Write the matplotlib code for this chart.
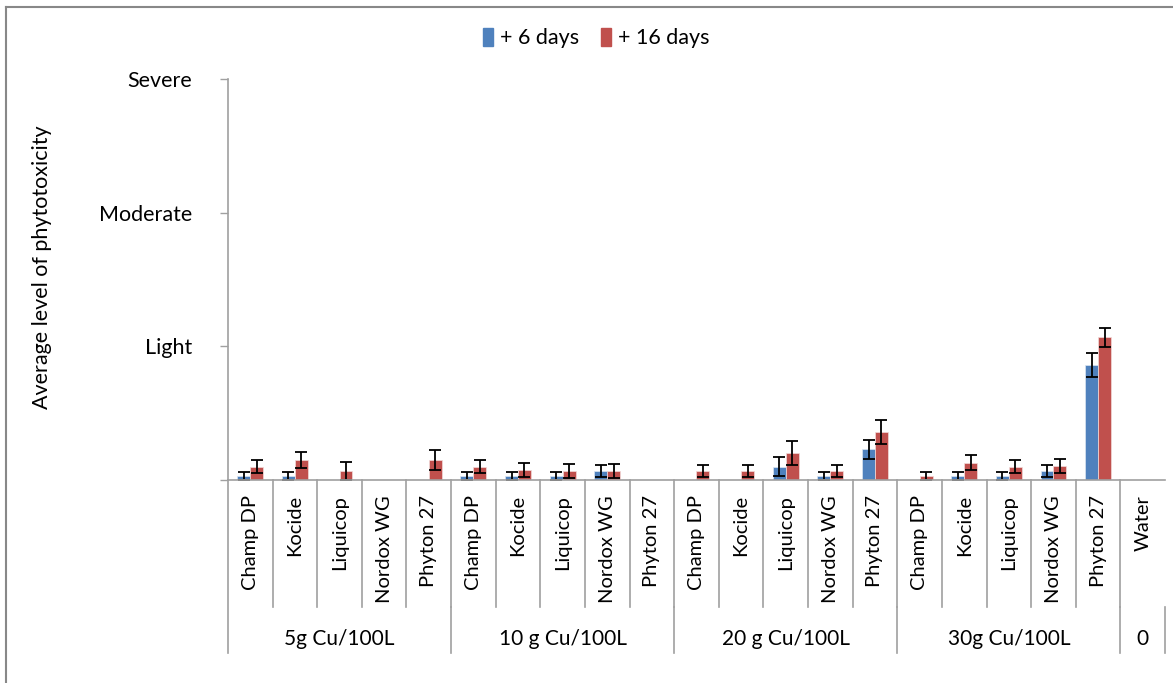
import numpy as np
import matplotlib.pyplot as plt
from matplotlib.lines import Line2D
from matplotlib.patches import Patch

plt.rcParams['font.family'] = ['Lato', 'DejaVu Sans']

products = ["Champ DP", "Kocide", "Liquicop", "Nordox WG", "Phyton 27"]
doses = ["5g Cu/100L", "10 g Cu/100L", "20 g Cu/100L", "30g Cu/100L"]
categories = products * 4 + ["Water"]
groups = doses + ["0"]
group_sizes = [5, 5, 5, 5, 1]

day6 = [0.033, 0.033, 0, 0, 0,
        0.033, 0.033, 0.033, 0.067, 0,
        0, 0, 0.1, 0.033, 0.23,
        0, 0.033, 0.033, 0.067, 0.86,
        0]
day6_err = [0.03, 0.03, 0, 0, 0,
            0.03, 0.03, 0.03, 0.045, 0,
            0, 0, 0.07, 0.03, 0.07,
            0, 0.03, 0.03, 0.045, 0.09,
            0]
day16 = [0.1, 0.15, 0.067, 0, 0.15,
         0.1, 0.075, 0.067, 0.067, 0,
         0.067, 0.067, 0.2, 0.067, 0.36,
         0.033, 0.13, 0.1, 0.105, 1.067,
         0]
day16_err = [0.05, 0.057, 0.067, 0, 0.077,
             0.05, 0.05, 0.05, 0.05, 0,
             0.045, 0.045, 0.09, 0.045, 0.09,
             0.03, 0.055, 0.05, 0.055, 0.07,
             0]

blue = '#4F81BD'
red = '#C0504D'
grey = '#A0A0A0'

fig = plt.figure(figsize=(11.73, 6.83), dpi=100)
ax = fig.add_axes([228/1173, 1-480/683, (1165-228)/1173, (480-79)/683])

x = np.arange(len(categories))
w = 0.29
d6 = np.array(day6)
d16 = np.array(day16)
ax.bar(x - w/2, d6, w, color=blue, edgecolor='#DCE6F2', linewidth=0.5, label='+ 6 days')
ax.bar(x + w/2, d16, w, color=red, edgecolor='#F2DCDB', linewidth=0.5, label='+ 16 days')

m6 = d6 > 0
m16 = d16 > 0
ax.errorbar(x[m6] - w/2, d6[m6], yerr=np.array(day6_err)[m6], fmt='none',
            ecolor='black', elinewidth=1.3, capsize=4, capthick=1.3)
ax.errorbar(x[m16] + w/2, d16[m16], yerr=np.array(day16_err)[m16], fmt='none',
            ecolor='black', elinewidth=1.3, capsize=4, capthick=1.3)

ax.set_xlim(-0.5, len(categories) - 0.5)
ax.set_ylim(0, 3)
ax.set_yticks([0, 1, 2, 3])
ax.set_yticklabels(['', 'Light', 'Moderate', 'Severe'], fontsize=15.5)
ax.tick_params(axis='y', length=6, width=1, color=grey, pad=20)
ax.set_xticks([])
for s in ['top', 'right']:
    ax.spines[s].set_visible(False)
for s in ['left', 'bottom']:
    ax.spines[s].set_color(grey)
    ax.spines[s].set_linewidth(1.2)

ax.set_ylabel('Average level of phytotoxicity', fontsize=15.5)
ax.yaxis.set_label_coords(-(228-52)/937, 0.53)

# category table under the axis
trans = ax.get_xaxis_transform()
px = 1/401  # one pixel in axes height
for i, c in enumerate(categories):
    ax.text(i, -15*px, c, rotation=90, ha='center', va='top', fontsize=14.5,
            transform=trans, clip_on=False)
for b in range(1, len(categories)):
    ax.plot([b - 0.5, b - 0.5], [0, -127*px], color=grey, lw=1.2,
            transform=trans, clip_on=False)
start = 0
ax.plot([-0.5, -0.5], [0, -173*px], color=grey, lw=1.2, transform=trans, clip_on=False)
for g, n in zip(groups, group_sizes):
    end = start + n
    ax.plot([end - 0.5, end - 0.5], [-127*px, -173*px], color=grey, lw=1.2,
            transform=trans, clip_on=False)
    ax.text((start + end - 1)/2, -159*px, g, ha='center', va='center', fontsize=15,
            transform=trans, clip_on=False)
    start = end

handles = [Patch(color=blue), Patch(color=red)]
fig.legend(handles, ['+ 6 days', '+ 16 days'], loc='center', bbox_to_anchor=(596/1173, 1-38/683),
           ncol=2, frameon=False, fontsize=15.5, handlelength=0.5, handleheight=0.9,
           handletextpad=0.3, columnspacing=1.0)

# outer chart border
fig.add_artist(Line2D([6/1173, 1], [1-6.5/683, 1-6.5/683], color='#888888', lw=1.5))
fig.add_artist(Line2D([6/1173, 6/1173], [0, 1-6.5/683], color='#888888', lw=1.5))

fig.savefig('out.png', dpi=100)
